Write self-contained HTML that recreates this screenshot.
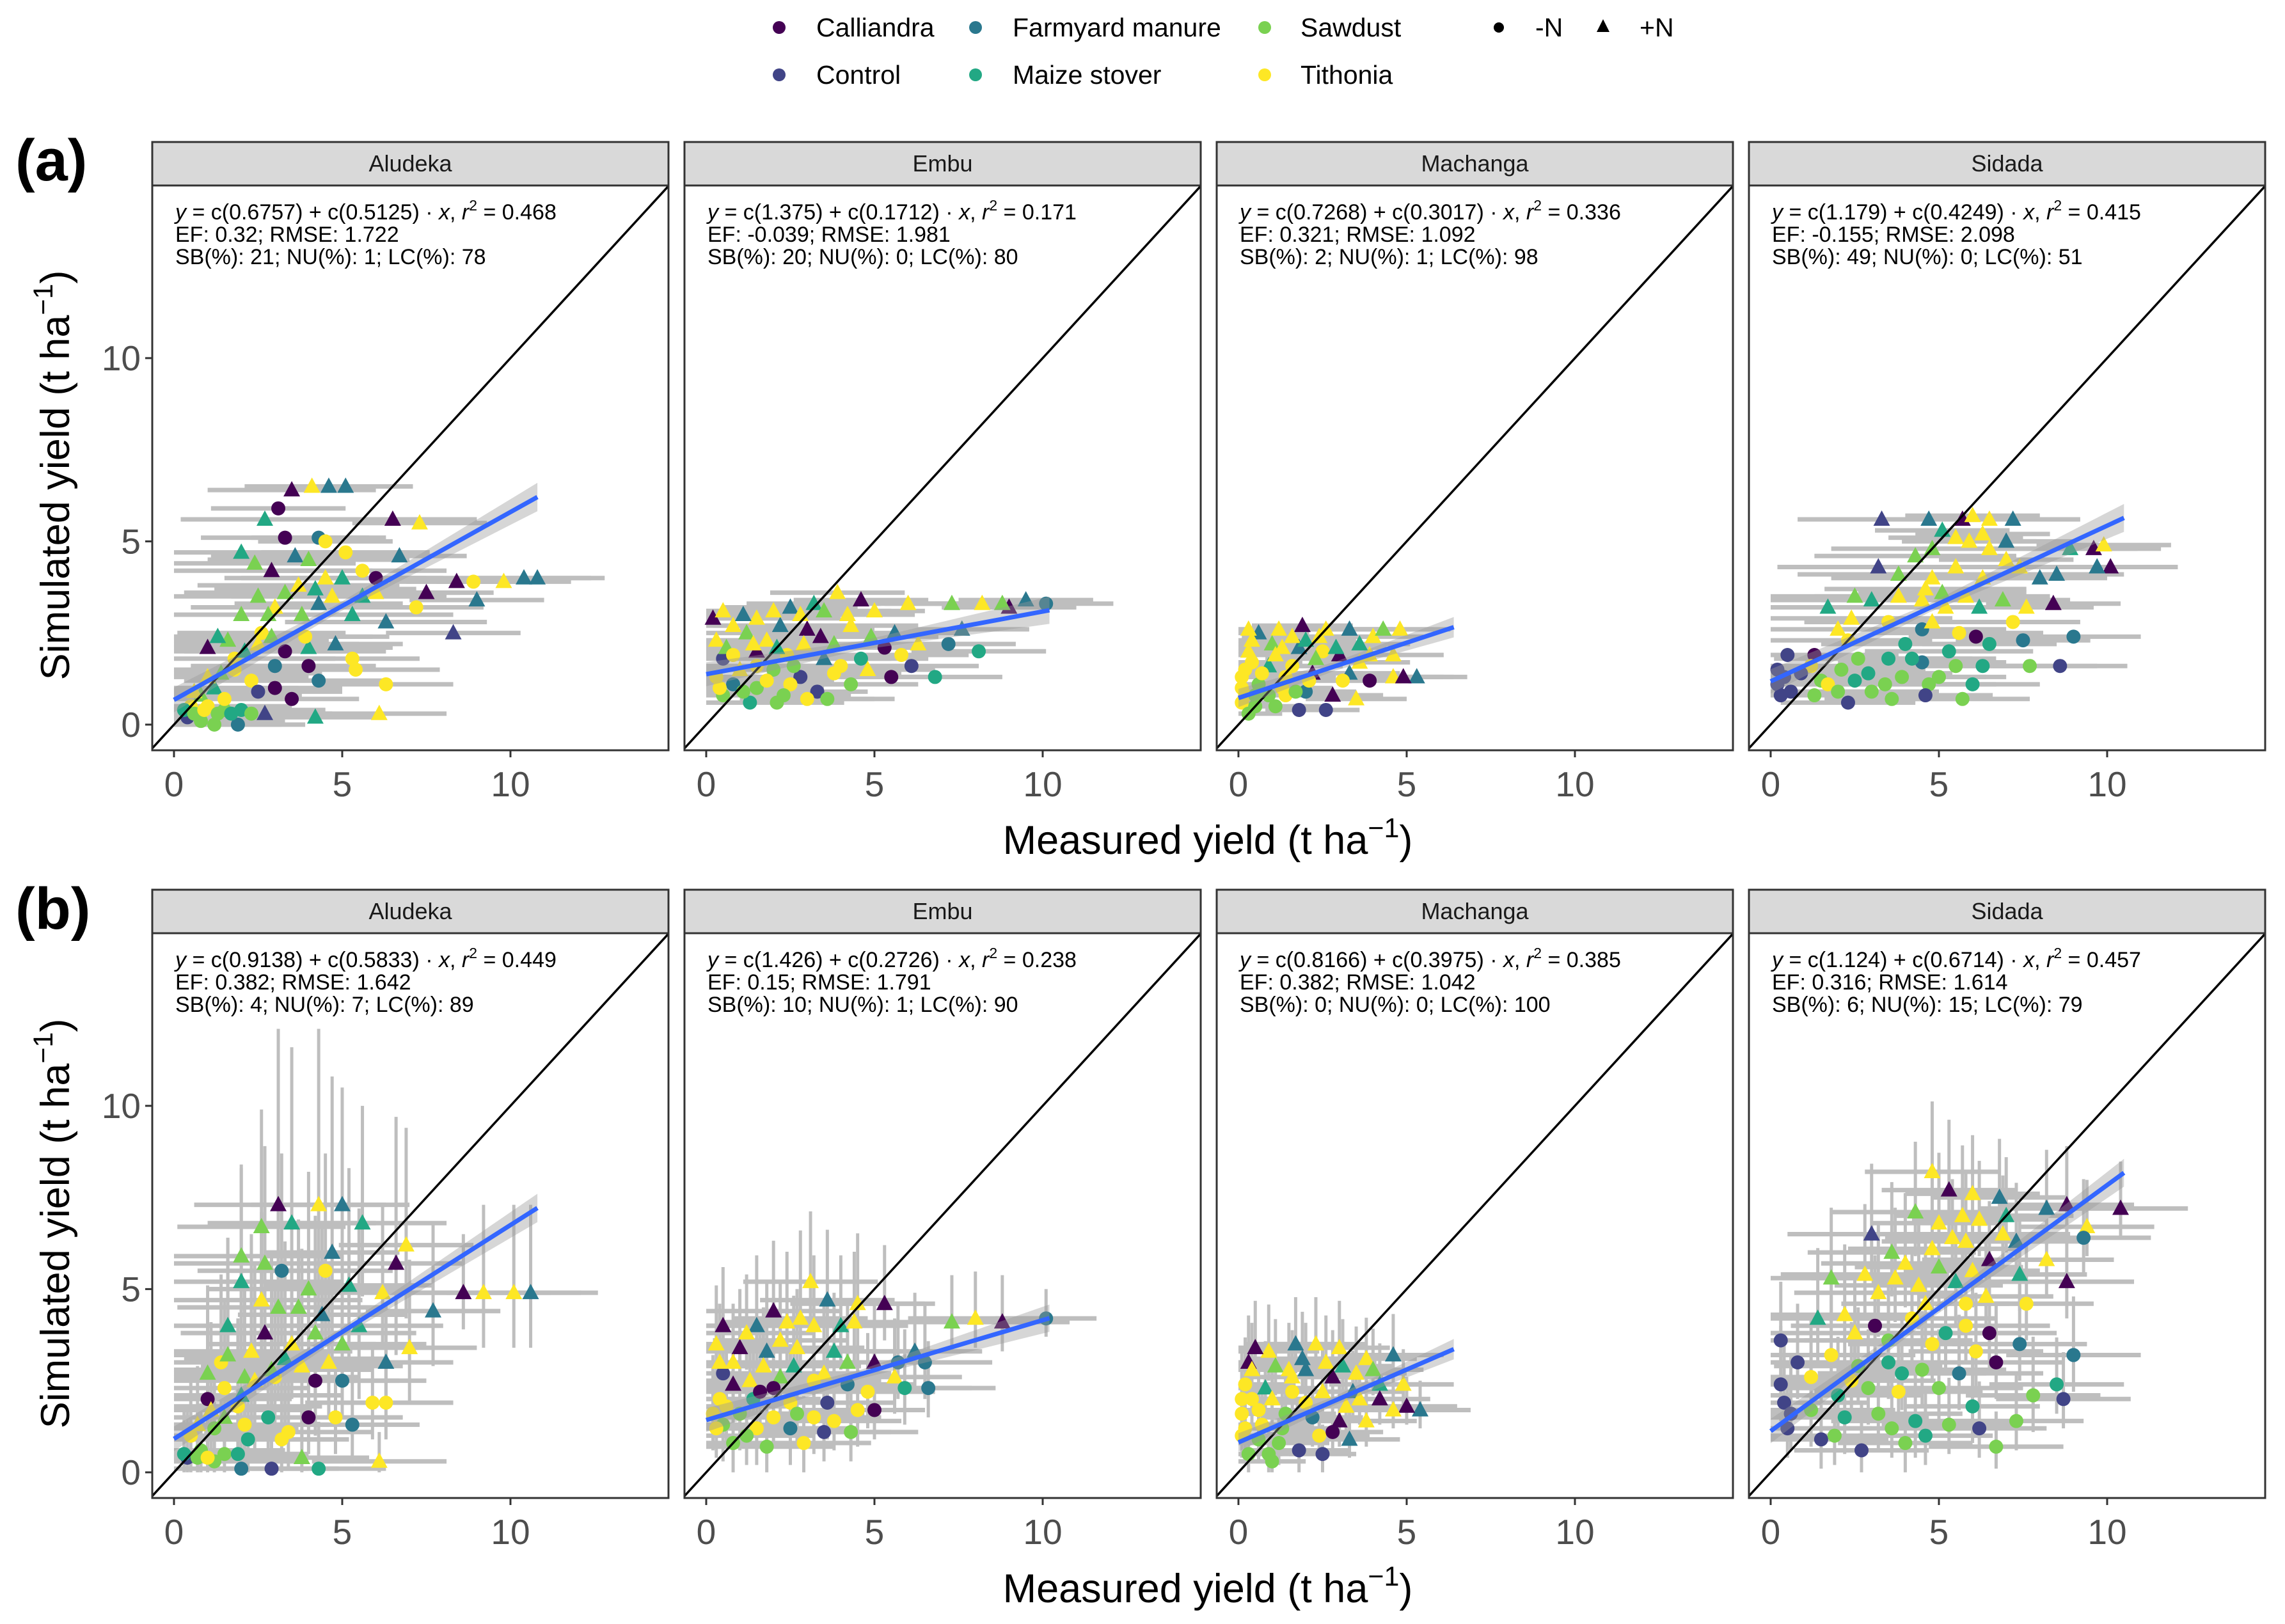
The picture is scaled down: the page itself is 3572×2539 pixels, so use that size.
<!DOCTYPE html>
<html><head><meta charset="utf-8">
<style>
html,body{margin:0;padding:0;background:#fff;}
svg{display:block;font-family:"Liberation Sans",Arial,sans-serif;}
</style></head>
<body>
<svg id="fig" width="3572" height="2539" viewBox="0 0 3572 2539" xmlns="http://www.w3.org/2000/svg">
<defs id="defs"></defs>
<g id="legend"></g>
<text x="24" y="282" font-size="92" font-weight="bold" fill="#000">(a)</text>
<text x="24" y="1452" font-size="92" font-weight="bold" fill="#000">(b)</text>
<text transform="translate(108,743) rotate(-90)" text-anchor="middle" font-size="63" fill="#000">Simulated yield (t ha<tspan dy="-26" font-size="43">−1</tspan><tspan dy="26">)</tspan></text>
<text transform="translate(108,1913) rotate(-90)" text-anchor="middle" font-size="63" fill="#000">Simulated yield (t ha<tspan dy="-26" font-size="43">−1</tspan><tspan dy="26">)</tspan></text>
<text x="1888" y="1335" text-anchor="middle" font-size="63" fill="#000">Measured yield (t ha<tspan dy="-26" font-size="43">−1</tspan><tspan dy="26">)</tspan></text>
<text x="1888" y="2505" text-anchor="middle" font-size="63" fill="#000">Measured yield (t ha<tspan dy="-26" font-size="43">−1</tspan><tspan dy="26">)</tspan></text>
<g id="panels"></g>
</svg>
<script>
// ---- data ----
const sites = ["Aludeka","Embu","Machanga","Sidada"];
const treatments = ["Calliandra","Control","Farmyard manure","Maize stover","Sawdust","Tithonia"];
const treatColors = ["#440154","#414487","#2A788E","#22A884","#7AD151","#FDE725"];
const interceptsA = [0.6757,1.375,0.7268,1.179];
const slopesA = [0.5125,0.1712,0.3017,0.4249];
const r2A = ["0.468","0.171","0.336","0.415"];
const efA = ["EF: 0.32; RMSE: 1.722","EF: -0.039; RMSE: 1.981","EF: 0.321; RMSE: 1.092","EF: -0.155; RMSE: 2.098"];
const sbA = ["SB(%): 21; NU(%): 1; LC(%): 78","SB(%): 20; NU(%): 0; LC(%): 80","SB(%): 2; NU(%): 1; LC(%): 98","SB(%): 49; NU(%): 0; LC(%): 51"];
const interceptsB = [0.9138,1.426,0.8166,1.124];
const slopesB = [0.5833,0.2726,0.3975,0.6714];
const r2B = ["0.449","0.238","0.385","0.457"];
const efB = ["EF: 0.382; RMSE: 1.642","EF: 0.15; RMSE: 1.791","EF: 0.382; RMSE: 1.042","EF: 0.316; RMSE: 1.614"];
const sbB = ["SB(%): 4; NU(%): 7; LC(%): 89","SB(%): 10; NU(%): 1; LC(%): 90","SB(%): 0; NU(%): 0; LC(%): 100","SB(%): 6; NU(%): 15; LC(%): 79"];
const fitXMax = [10.8,10.2,6.4,10.5];
// points: "measured simulated treatment N(0=-N,1=+N) xErr [yErr]"
const ptsA_Aludeka = ["3.5 6.4 0 1 2.5","4.1 6.5 5 1 2","4.6 6.5 2 1 2.5","5.1 6.5 2 1 2","3.1 5.9 0 0 2","2.7 5.6 3 1 2.5","6.5 5.6 0 1 2.5","7.3 5.5 5 1 2","3.3 5.1 0 0 2.5","4.3 5.1 2 0 2","4.5 5.0 5 0 2","5.1 4.7 5 0 2.5","2.0 4.7 3 1 3","2.4 4.4 4 1 3","3.6 4.6 2 1 2.5","5.6 4.2 5 0 2.5","6.7 4.6 2 1 2","4.5 4.0 5 1 3","5.0 4.0 3 1 3","6.0 4.0 0 0 2.5","8.4 3.9 0 1 2","8.9 3.9 5 0 2","9.8 3.9 5 1 2","10.4 4.0 2 1 2","10.8 4.0 2 1 2","7.5 3.6 0 1 2","9.0 3.4 2 1 2","7.2 3.2 5 0 2","2.5 3.5 4 1 3","3.0 3.2 5 1 2.5","3.8 3.0 4 1 3","4.3 3.3 2 1 2.5","5.3 3.0 3 1 3","6.3 2.8 2 1 3","8.3 2.5 1 1 2","2.6 2.5 5 0 2.5","3.3 2.0 0 0 3","4.0 2.1 3 1 2.5","4.8 2.2 2 1 2","1.6 2.3 4 1 3","1.0 2.1 0 1 3","1.8 1.5 5 0 2.5","2.3 1.2 5 0 2","3.0 1.6 2 0 2.5","4.0 1.6 0 0 2","5.4 1.5 5 0 2.5","6.3 1.1 5 0 2","1.2 1.0 3 1 2.5","0.8 0.8 4 1 3","0.5 0.5 5 0 3","1.0 0.5 5 0 2.5","1.5 0.4 4 0 2","2.0 0.4 3 0 2.5","0.4 0.2 1 0 2","1.2 0.0 4 0 2","1.9 0.0 2 0 2","2.7 0.3 1 1 2","4.2 0.2 3 1 2","6.1 0.3 5 1 2","0.8 0.1 4 0 2.5","1.5 0.7 5 0 2","3.5 0.7 0 0 2","0.3 0.4 3 0 2.5","0.6 0.3 4 0 2.5","0.9 0.4 5 0 2.5","1.3 0.3 4 0 2.5","1.7 0.3 3 0 2.5","2.3 0.3 4 0 2","0.6 0.9 5 1 3","1.0 1.3 5 1 3","1.4 1.4 4 1 3","1.8 1.8 5 0 3","2.1 2.0 3 1 3","2.5 2.2 5 1 3","2.9 2.4 4 1 3","1.3 2.4 3 1 3","2.0 3.0 4 1 3","2.8 3.0 4 1 3","3.3 3.6 4 1 3","3.7 3.8 5 1 3","4.2 3.7 3 1 3","4.7 3.5 5 1 3","5.6 3.5 3 1 2.5","6.0 3.6 5 1 2.5","2.9 4.2 0 1 3","4.0 4.5 4 1 3","3.9 2.4 5 0 2.5","4.3 1.2 2 0 2","5.3 1.8 5 0 2","2.5 0.9 1 0 2.5","3.0 1.0 0 0 2"];
const ptsA_Embu = ["0.2 2.9 0 1 2","0.8 2.7 5 1 2","1.5 2.9 5 1 2.5","2.5 3.2 2 1 2","3.2 3.3 3 1 2","3.9 3.6 5 1 2","4.6 3.4 0 1 2","5.0 3.1 5 1 1.5","6.0 3.3 5 1 2","7.3 3.3 4 1 2","8.2 3.3 5 1 2","9.0 3.2 0 1 2","9.5 3.4 2 1 2","10.1 3.3 2 0 2","0.3 2.3 5 1 2","1.2 2.5 4 1 2.5","2.2 2.7 2 1 2","3.0 2.6 0 1 2","4.3 2.7 5 1 2","5.6 2.5 2 1 2","6.3 2.2 5 1 2","7.2 2.2 2 0 2","8.1 2.0 3 0 2","0.5 1.8 1 0 2","1.5 2.0 0 1 2","2.4 1.9 5 0 2","3.5 1.8 2 1 2","4.6 1.8 3 0 2","5.3 2.1 0 0 2","6.1 1.6 1 0 2","0.3 1.3 5 0 2","1.0 1.5 5 1 2","2.0 1.5 4 0 2","2.8 1.3 1 0 2","3.8 1.4 5 0 2","4.8 1.5 5 1 2","1.5 1.0 4 0 2","2.5 1.1 5 0 2","3.3 0.9 1 0 1.5","4.3 1.1 4 0 2","0.5 0.8 4 0 2","1.3 0.6 3 0 2","2.1 0.6 4 0 2","3.0 0.7 5 0 2","0.8 1.1 2 0 2","5.5 1.3 0 0 1.5","6.8 1.3 3 0 2","1.8 2.3 5 1 2","3.8 2.2 4 1 2","2.8 3.0 5 1 2","0.5 3.1 5 1 2","1.1 3.0 2 1 2","2.0 3.1 5 1 2","3.5 3.1 4 1 2","4.2 3.0 5 1 2","0.6 2.1 4 1 2","1.4 2.2 5 1 2","2.1 2.1 3 1 2","2.9 2.2 5 1 2","3.4 2.4 0 1 2","4.9 2.4 4 1 2","0.4 1.0 5 0 2","1.1 0.9 4 0 2","1.8 1.2 5 0 2","2.3 0.8 4 0 2","3.6 0.7 4 0 2","4.0 1.6 5 0 2","2.6 1.6 4 0 2","1.5 1.6 5 0 2","0.8 1.9 5 0 2","5.8 1.9 5 0 2","7.6 2.6 2 1 2","8.8 3.3 4 1 2"];
const ptsA_Machanga = ["0.6 2.5 2 1 1.5","1.2 2.6 5 1 1.5","1.9 2.7 0 1 1.5","2.6 2.6 5 1 2","3.3 2.6 2 1 1.5","4.0 2.4 5 1 1.5","0.3 2.0 5 1 1.5","1.0 2.2 4 1 1.5","1.8 2.1 2 1 1.5","2.5 2.0 5 0 1.5","3.0 1.9 0 1 1.5","3.9 1.9 5 1 1.5","4.6 1.9 5 1 1.5","0.2 1.5 5 0 1.5","0.9 1.6 3 1 1.5","1.6 1.6 5 0 1.5","2.2 1.4 0 1 1.5","3.3 1.4 2 1 1.5","4.6 1.3 5 1 1.5","5.3 1.3 2 1 1.5","4.9 1.3 0 1 1.5","0.1 1.0 5 0 1.5","0.6 1.1 4 0 1.5","1.3 1.0 5 0 1.5","2.0 0.9 2 0 1.5","2.8 0.8 0 1 1.5","3.5 0.7 5 1 1.5","0.1 0.6 5 0 1","0.5 0.5 4 0 1.5","1.1 0.5 4 0 1.5","1.8 0.4 1 0 1","2.6 0.4 1 0 1","0.3 0.3 4 0 1","1.4 0.8 5 0 1.5","2.3 1.8 4 1 1.5","0.4 2.3 5 1 1.5","3.6 2.2 3 1 1.5","1.6 2.4 5 1 1.5","0.1 1.3 5 0 1.5","0.2 0.8 5 0 1","0.4 1.7 5 0 1.5","0.7 1.4 5 0 1.5","0.9 0.8 4 0 1.5","1.1 1.9 5 1 1.5","1.4 1.3 5 0 1.5","1.7 0.9 4 0 1.5","2.1 1.2 5 0 1.5","2.4 2.4 5 1 1.5","2.9 2.1 3 1 1.5","3.1 1.2 5 0 1.5","3.6 1.7 5 1 1.5","4.3 2.6 4 1 1.5","4.8 2.6 5 1 1.5","1.3 2.1 5 1 1.5","0.5 0.8 4 0 1","2.0 2.3 3 1 1.5","3.9 1.2 0 0 1.5","0.3 2.6 5 1 1.5"];
const ptsA_Sidada = ["3.3 5.6 1 1 2.5","4.7 5.6 2 1 2.5","5.7 5.6 0 1 2","6.0 5.7 5 1 2","6.5 5.6 5 1 2","7.2 5.6 2 1 2","5.1 5.3 3 1 2","4.8 4.8 4 1 3","6.5 4.8 5 1 2","7.0 5.0 2 1 2","8.9 4.8 3 1 2","9.6 4.8 0 1 2","9.9 4.9 5 1 2","10.1 4.3 0 1 2","9.7 4.3 2 1 2","3.2 4.3 1 1 3","3.8 4.1 4 1 3","4.8 4.0 5 1 3","5.5 4.3 5 1 2.5","6.3 4.0 5 1 2.5","7.4 4.3 5 1 2.5","8.0 4.0 2 1 2","8.5 4.1 2 1 2","2.5 3.5 4 1 3","3.8 3.5 5 1 2.5","4.6 3.7 5 1 3","5.2 3.2 5 1 2.5","6.2 3.2 3 1 2","7.6 3.2 5 1 2","8.4 3.3 0 1 2","2.0 2.6 5 1 3","3.5 2.8 5 0 2.5","4.5 2.6 2 0 2.5","6.1 2.4 0 0 2","7.5 2.3 2 0 2","9.0 2.4 2 0 2","0.5 1.9 1 0 2.5","1.3 1.9 0 0 2.5","2.6 1.8 4 0 2.5","3.5 1.8 3 0 2.5","4.5 1.7 2 0 2.5","5.5 1.6 4 0 2","6.3 1.6 3 0 2","7.7 1.6 4 0 2","8.6 1.6 1 0 2","0.4 1.3 1 0 2.5","1.5 1.2 4 0 2.5","2.5 1.2 3 0 2.5","3.4 1.1 4 0 2.5","4.7 1.1 4 0 2","0.6 0.9 1 0 2.5","1.3 0.8 4 0 2.5","2.3 0.6 1 0 2","3.6 0.7 4 0 2","4.6 0.8 1 0 2","5.7 0.7 4 0 2","0.2 1.5 1 0 2.5","4.0 2.2 3 0 2.5","5.6 2.5 5 0 2.5","2.3 2.3 5 0 2.5","1.2 1.6 5 0 2.5","5.5 5.1 5 1 2","5.9 5.0 5 1 2","6.3 5.2 5 1 2","7.0 4.5 5 1 2","4.3 4.6 4 1 3","4.5 3.4 5 1 3","5.1 3.6 4 1 2.5","5.8 3.5 5 1 2.5","3.0 3.4 3 1 3","6.9 3.4 4 1 2","1.7 3.2 3 1 3","2.4 2.9 5 1 3","0.2 1.1 1 0 2.5","0.3 0.8 1 0 2.5","1.7 1.1 5 0 2.5","2.1 1.5 4 0 2.5","2.9 1.4 3 0 2.5","3.9 1.3 4 0 2.5","4.2 1.8 3 0 2.5","5.0 1.3 4 0 2","6.0 1.1 3 0 2","3.0 0.9 4 0 2","2.0 0.9 4 0 2.5","6.5 2.2 3 0 2","7.2 2.8 5 0 2","5.3 2.0 3 0 2.5","4.8 2.8 5 1 2.5","0.9 1.4 1 0 2.5"];
const ptsB_Aludeka = ["3.1 7.3 0 1 2.5 3","4.3 7.3 5 1 2 3","5.0 7.3 2 1 2 2","2.6 6.7 4 1 2.5 2","3.5 6.8 3 1 2.5 3","5.6 6.8 3 1 2.5 2","6.6 5.7 0 1 2 2.5","6.9 6.2 5 1 2 2","2.0 5.9 4 1 3 1.5","3.2 5.5 2 0 2.5 2","4.5 5.5 5 0 2 2","5.2 5.1 3 1 2.5 2","6.2 4.9 5 1 2 1.5","8.6 4.9 0 1 2 1","9.2 4.9 5 1 2 1.5","10.6 4.9 2 1 2 1.5","10.1 4.9 5 1 2 1.5","7.7 4.4 2 1 2 1.5","2.6 4.7 5 1 3 1.5","3.7 4.5 4 1 2.5 1.5","4.4 4.3 2 1 2.5 1.5","1.6 4.0 3 1 3 1.5","2.7 3.8 0 1 2.5 1.5","3.5 3.5 5 1 2.5 1.5","5.0 3.5 4 1 2.5 1.5","6.3 3.0 2 1 2 1","1.4 3.0 5 0 3 1.5","2.1 2.6 4 1 3 1.5","3.0 2.6 5 0 2.5 1.5","4.2 2.5 0 0 2.5 1.5","5.0 2.5 2 0 2.5 1","1.0 2.0 0 0 2.5 1.5","1.9 1.8 5 0 2.5 1.5","2.8 1.5 3 0 2.5 1","4.0 1.5 0 0 2 1","6.3 1.9 5 0 2 1","0.5 1.0 5 0 3 1","1.2 1.2 4 0 2.5 1","2.2 0.9 3 0 2.5 1","3.2 0.9 5 0 2 1","0.4 0.4 1 0 2 0.8","1.2 0.3 4 0 2.5 0.8","2.0 0.1 2 0 2 0.8","2.9 0.1 1 0 2 0.8","4.3 0.1 3 0 2 0.8","6.1 0.3 5 1 2 0.5","0.8 0.6 4 0 2.5 0.8","3.8 0.4 4 1 2 0.5","1.5 2.3 5 0 2.5 1.5","4.6 3.0 5 1 2.5 1.5","0.3 0.5 3 0 2.5 0.8","0.7 0.4 4 0 2.5 0.8","1.0 0.4 5 0 2.5 0.8","1.5 0.5 4 0 2.5 0.8","1.9 0.5 3 0 2 0.8","0.7 1.3 5 1 3 1","1.1 1.7 5 1 3 1.5","1.5 1.5 4 1 3 1","2.0 2.1 3 1 3 1.5","2.4 2.5 5 1 3 2","2.9 2.8 4 1 3 2","1.0 2.7 4 1 3 1.5","1.6 3.2 4 1 3 2","2.3 3.3 5 1 3 2","3.3 3.1 3 1 3 2","3.8 2.9 5 1 3 2","4.2 3.8 4 1 3 2","5.5 4.0 3 1 2.5 2","3.1 4.5 4 1 3 2.5","2.0 5.2 3 1 3 2","2.7 5.7 4 1 3 2","4.0 5.0 4 1 3 2","3.4 1.1 5 0 2.5 1","2.1 1.3 5 0 2.5 1","4.8 1.5 5 0 2 1","5.3 1.3 2 0 2 1","5.9 1.9 5 0 2 1","7.0 3.4 5 1 2 1.5","4.7 6.0 2 1 2 3"];
const ptsB_Embu = ["3.1 5.2 5 1 2 1.2","3.6 4.7 2 1 2 1.2","4.5 4.6 5 1 2 1.2","5.3 4.6 0 1 1.5 1","0.5 4.0 0 1 2 1","1.5 4.0 2 1 2.5 1.2","2.4 4.1 5 1 2 1.2","3.2 4.0 5 1 2 1.2","4.0 4.0 3 1 2 1.2","7.3 4.1 4 1 1.5 0.8","8.0 4.2 5 1 2 0.8","8.8 4.1 0 1 2 0.8","10.1 4.2 2 0 1.5 0.5","0.3 3.5 5 1 2 1","1.0 3.4 0 1 2 1","1.8 3.3 2 1 2 1.2","2.7 3.4 5 1 2 1","3.8 3.3 3 1 2 1","5.0 3.0 0 1 2 1","5.7 3.0 2 0 2 1","0.5 2.7 1 0 2 1","1.3 2.5 5 1 2 1","2.2 2.6 4 1 2 1","3.2 2.5 5 0 2 1","4.2 2.4 2 0 2 1","5.6 2.6 5 1 2 1","6.6 2.3 2 0 2 0.8","0.4 2.0 5 0 2 1","1.4 2.0 3 0 2 1","2.5 1.9 5 0 2 1","3.6 1.9 1 0 2 1","4.5 1.7 5 0 2 1","5.0 1.7 0 0 1.5 0.8","0.5 1.3 4 0 2 1","1.5 1.2 5 0 2 1","2.5 1.2 2 0 2 1","3.5 1.1 1 0 2 0.8","4.3 1.1 4 0 2 0.8","0.8 0.8 4 0 2 0.8","1.8 0.7 4 0 2 0.8","2.9 0.8 5 0 2 0.8","0.2 1.6 5 0 2 1","1.0 1.6 4 0 2 1","2.0 2.3 0 0 2 1","3.2 1.5 5 0 2 1","6.2 3.3 2 1 2 1","0.8 3.0 5 1 2 1","2.2 3.6 5 1 2 1","0.4 3.0 5 1 2 1","1.2 3.8 5 1 2 1","2.0 4.4 0 1 2 1.2","2.8 4.2 5 1 2 1.5","4.4 4.1 5 1 2 1.2","0.8 2.4 0 1 2 1","1.7 2.9 5 1 2 1","2.6 2.9 3 1 2 1.2","3.5 2.7 5 1 2 1.2","4.2 3.0 4 1 2 1","0.3 1.2 5 0 2 0.8","1.2 1.0 4 0 2 0.8","2.0 1.5 5 0 2 0.8","2.7 1.6 4 0 2 0.8","3.8 1.4 5 0 2 0.8","4.8 2.2 5 0 2 1","5.9 2.3 3 0 2 1","6.5 3.0 2 0 2 1","1.6 2.2 0 0 2 1","0.6 1.8 5 0 2 1"];
const ptsB_Machanga = ["0.9 3.3 5 1 1.5 0.8","1.7 3.5 2 1 1.5 0.8","2.3 3.5 5 1 1.5 0.8","3.0 3.4 5 1 1.5 0.8","3.8 3.1 5 1 1.5 0.7","4.6 3.2 2 1 1.5 0.7","0.3 3.0 0 1 1.5 0.8","1.1 2.9 4 1 1.5 0.8","2.0 2.8 2 1 1.5 0.8","2.8 2.6 0 1 1.5 0.8","3.5 2.7 5 1 1.5 0.8","4.2 2.4 3 1 1.5 0.7","0.2 2.4 5 0 1.5 0.8","0.8 2.3 3 1 1.5 0.8","1.6 2.2 5 0 1.5 0.8","2.5 2.2 5 1 1.5 0.8","3.4 2.2 2 1 1.5 0.7","4.2 2.0 0 1 1.5 0.7","5.4 1.7 2 1 1.5 0.5","5.0 1.8 0 1 1.5 0.5","4.6 1.7 5 1 1.5 0.5","0.1 1.6 5 0 1.5 0.8","0.6 1.7 5 0 1.5 0.8","1.4 1.6 4 0 1.5 0.8","2.2 1.5 2 0 1.5 0.8","3.0 1.4 0 1 1.5 0.7","3.8 1.4 5 1 1.5 0.7","0.1 1.0 5 0 1 0.6","0.6 0.9 4 0 1.5 0.6","1.2 0.8 4 0 1.5 0.6","1.8 0.6 1 0 1.5 0.6","2.5 0.5 1 0 1 0.5","3.3 0.9 2 1 1.5 0.5","0.3 0.5 4 0 1 0.5","1.0 0.3 4 0 1 0.5","2.4 1.0 5 0 1.5 0.6","1.5 2.8 5 1 1.5 0.8","0.4 2.0 5 0 1.5 0.8","0.1 2.0 5 0 1.5 0.8","0.2 1.2 5 0 1 0.6","0.4 2.8 5 1 1.5 0.8","0.7 1.3 5 0 1.5 0.6","1.0 2.0 5 1 1.5 0.8","1.3 1.2 4 0 1.5 0.6","1.6 2.6 5 1 1.5 0.8","2.0 1.9 5 0 1.5 0.8","2.6 3.0 5 1 1.5 0.8","3.1 2.9 3 1 1.5 0.8","3.2 1.8 5 1 1.5 0.7","4.0 2.8 4 1 1.5 0.7","4.9 2.4 5 1 1.5 0.6","1.9 3.1 2 1 1.5 0.8","0.5 3.4 0 1 1.5 0.8","2.8 1.1 0 0 1.5 0.6","0.9 0.5 4 0 1 0.5","3.6 2.0 5 1 1.5 0.7"];
const ptsB_Sidada = ["4.8 8.2 5 1 2 1.2","5.3 7.7 0 1 2 1.2","6.0 7.6 5 1 2 1","6.8 7.5 2 1 2 1","4.3 7.1 4 1 2.5 1.2","5.7 7.0 5 1 2 1.2","7.0 7.0 3 1 2 1","8.2 7.2 2 1 2 1","8.8 7.3 0 1 2 1","9.4 6.7 5 1 2 0.8","10.4 7.2 0 1 2 0.8","9.3 6.4 2 0 2 1","3.0 6.5 1 1 2.5 1.2","3.6 6.0 4 1 2.5 1.2","4.8 6.1 5 1 2.5 1.2","5.8 6.3 5 1 2.5 1.2","6.5 5.8 0 1 2 1","7.3 6.3 2 1 2 1","8.2 5.8 5 1 2 1","8.8 5.2 0 1 2 1","1.8 5.3 4 1 3 1.2","2.8 5.4 5 1 2.5 1.2","3.7 5.3 5 1 2.5 1.2","4.4 5.1 5 1 2.5 1.2","5.5 5.2 3 1 2.5 1.2","6.4 4.8 5 1 2 1","7.6 4.6 5 0 2 1","1.4 4.2 3 1 3 1.2","2.2 4.3 5 1 2.5 1.2","3.1 4.0 0 0 2.5 1.2","4.2 4.2 5 0 2.5 1.2","5.2 3.8 3 0 2.5 1","6.5 3.8 0 0 2 1","7.4 3.5 2 0 2 1","9.0 3.2 2 0 2 1","0.3 3.6 1 0 2.5 1","0.8 3.0 1 0 2.5 1","1.8 3.2 5 0 2.5 1","2.6 2.9 4 0 2.5 1","3.5 3.0 3 0 2.5 1","4.5 2.8 4 0 2.5 1","5.6 2.7 2 0 2.5 1","6.7 3.0 0 0 2 1","7.8 2.1 4 0 2 1","8.7 2.0 1 0 2 0.8","0.4 1.9 1 0 2.5 1","1.2 1.7 4 0 2.5 1","2.2 1.5 3 0 2.5 1","3.2 1.6 4 0 2.5 1","4.3 1.4 3 0 2.5 1","5.3 1.3 4 0 2 0.8","6.2 1.2 1 0 2 0.8","0.5 1.2 1 0 2.5 0.8","1.5 0.9 1 0 2 0.8","2.7 0.6 1 0 2 0.8","4.0 0.8 4 0 2 0.8","6.7 0.7 4 0 2 0.6","3.8 2.2 5 0 2.5 1","5.8 4.0 5 0 2.5 1","2.4 2.5 5 0 2.5 1","5.0 6.8 5 1 2 1.2","6.2 6.9 5 1 2 1","5.4 6.4 5 1 2 1","6.9 6.5 5 1 2 1","4.0 5.7 5 1 2.5 1.2","5.0 5.6 4 1 2.5 1.2","6.0 5.5 5 1 2 1","7.4 5.4 3 1 2 1","3.2 4.9 5 1 2.5 1.2","4.6 4.6 5 1 2.5 1.2","5.8 4.6 5 0 2 1","2.5 3.8 5 1 2.5 1","3.5 3.6 4 0 2.5 1","4.8 3.5 5 0 2.5 1","6.1 3.3 5 0 2 1","1.2 2.6 5 0 2.5 1","2.0 2.1 3 0 2.5 1","2.9 2.3 4 0 2.5 1","3.9 2.7 3 0 2.5 1","5.0 2.3 4 0 2.5 1","6.0 1.8 3 0 2 1","3.6 1.2 4 0 2.5 0.8","4.6 1.0 3 0 2 0.8","1.9 1.0 4 0 2.5 0.8","0.3 2.4 1 0 2.5 1","0.6 1.6 1 0 2.5 1","7.3 1.4 4 0 2 0.8","8.5 2.4 3 0 2 0.8"];

// ---- layout ----
const NS = "http://www.w3.org/2000/svg";
const defs = document.getElementById('defs');
const panelsG = document.getElementById('panels');
const PX = [238,1070,1902,2734], PW = 807, STRIP_H = 68, PH = 883;
const ROW_TOP = [222,1391];
const XMIN = -0.646, YMIN = -0.7, XS = 52.6, YS = 57.3;
function mk(tag, attrs, parent){ const e=document.createElementNS(NS,tag); for(const k in attrs) e.setAttribute(k,attrs[k]); if(parent) parent.appendChild(e); return e; }

// legend
const legend = document.getElementById('legend');
const legX = [1218,1525,1977], legTX = [1276,1583,2033], legY = [43,117];
const legOrder = [[0,1],[2,3],[4,5]];
legOrder.forEach((col,ci)=>col.forEach((ti,ri)=>{
  const g = mk('g',{},legend);
  
  
  mk('circle',{cx:legX[ci],cy:legY[ri],r:10,fill:treatColors[ti]},g);
  const t = mk('text',{x:legTX[ci],y:legY[ri]+14,'font-size':41,fill:'#000'},g);
  t.textContent = treatments[ti];
}));
{
  const g = mk('g',{},legend);
  
  
  mk('circle',{cx:2343,cy:43,r:8,fill:'#000'},g);
  const t=mk('text',{x:2400,y:57,'font-size':41,fill:'#000'},g); t.textContent='-N';
  const g2 = mk('g',{},legend);
  
  
  mk('polygon',{points:'2506,30 2496,50 2516,50',fill:'#000'},g2);
  const t2=mk('text',{x:2563,y:57,'font-size':41,fill:'#000'},g2); t2.textContent='+N';
}

const allPts = [[ptsA_Aludeka,ptsA_Embu,ptsA_Machanga,ptsA_Sidada],[ptsB_Aludeka,ptsB_Embu,ptsB_Machanga,ptsB_Sidada]];
const ints = [interceptsA,interceptsB], slps=[slopesA,slopesB], r2s=[r2A,r2B], efs=[efA,efB], sbs=[sbA,sbB];

for(let row=0;row<2;row++){
  for(let p=0;p<4;p++){
    const L = PX[p], T = ROW_TOP[row]+STRIP_H, B = T+PH;
    const xs = v => L + (v-XMIN)*XS;
    const ys = v => B - (v-YMIN)*YS;
    const rowTag = row===0?'a':'b';
    const pg = mk('g',{},panelsG);
    
    
    const strip = mk('rect',{x:L,y:ROW_TOP[row],width:PW,height:STRIP_H,fill:'#d9d9d9',stroke:'#333','stroke-width':3},pg);
    
    
    const st = mk('text',{x:L+PW/2,y:ROW_TOP[row]+46,'text-anchor':'middle','font-size':36,fill:'#1a1a1a'},pg);
    st.textContent = sites[p];
    
    
    mk('rect',{x:L,y:T,width:PW,height:PH,fill:'#fff'},pg);
    const cid = 'clip'+row+p;
    const cp = mk('clipPath',{id:cid},defs);
    mk('rect',{x:L,y:T,width:PW,height:PH},cp);
    const plotG = mk('g',{'clip-path':'url(#'+cid+')'},pg);
    const pts = allPts[row][p].map(s=>s.split(' ').map(Number));
    const eg = mk('g',{stroke:'#bebebe','stroke-width':7},plotG);
    
    
    pts.forEach(d=>{
      const h = mk('line',{x1:xs(Math.max(0,d[0]-d[4])),x2:xs(d[0]+d[4]),y1:ys(d[1]),y2:ys(d[1])},eg);
      
      
      if(d.length>5){
        const v = mk('line',{x1:xs(d[0]),x2:xs(d[0]),y1:ys(Math.max(0,d[1]-d[5])),y2:ys(d[1]+d[5]*1.6),'stroke-width':5},eg);
        
        
      }
    });
    const ptG = mk('g',{},plotG);
    
    
    pts.forEach(d=>{
      const cx = xs(d[0]), cy = ys(d[1]), col = treatColors[d[2]];
      let m;
      if(d[3]===0){ m = mk('circle',{cx:cx,cy:cy,r:11,fill:col},ptG); }
      else { m = mk('polygon',{points:(cx)+','+(cy-14)+' '+(cx-13)+','+(cy+10)+' '+(cx+13)+','+(cy+10),fill:col},ptG); }
      
      
    });
    const diag = mk('line',{x1:xs(-1),y1:ys(-1),x2:xs(16),y2:ys(16),stroke:'#000','stroke-width':3.5},plotG);
    
    
    const a = ints[row][p], b = slps[row][p], x0 = 0, x1 = fitXMax[p], xm = (x0+x1)*0.45;
    const band = x => 0.12 + 0.045*Math.abs(x-xm);
    let up=[], lo=[];
    for(let i=0;i<=20;i++){ const x = x0+(x1-x0)*i/20; up.push(xs(x)+','+ys(a+b*x+band(x))); lo.unshift(xs(x)+','+ys(a+b*x-band(x))); }
    const rib = mk('polygon',{points:up.concat(lo).join(' '),fill:'#999','fill-opacity':0.4},plotG);
    
    
    const fit = mk('line',{x1:xs(x0),y1:ys(a+b*x0),x2:xs(x1),y2:ys(a+b*x1),stroke:'#3366ff','stroke-width':7},plotG);
    
    
    const ag = mk('g',{'font-size':34,fill:'#000'},pg);
    
    
    const ax = L+36, ay = ROW_TOP[row]+121;
    const t1 = mk('text',{x:ax,y:ay},ag);
    t1.innerHTML = '<tspan font-style="italic">y</tspan> = c(' + a + ') + c(' + b + ') · <tspan font-style="italic">x</tspan>,  <tspan font-style="italic">r</tspan><tspan dy="-14" font-size="23">2</tspan><tspan dy="14"> = ' + r2s[row][p] + '</tspan>';
    const t2 = mk('text',{x:ax,y:ay+35},ag); t2.textContent = efs[row][p];
    const t3 = mk('text',{x:ax,y:ay+70},ag); t3.textContent = sbs[row][p];
    mk('rect',{x:L,y:T,width:PW,height:PH,fill:'none',stroke:'#333','stroke-width':3},pg);
    const xt = mk('g',{},pg);
    
    
    [0,5,10].forEach(v=>{
      mk('line',{x1:xs(v),x2:xs(v),y1:B,y2:B+11,stroke:'#333','stroke-width':3},xt);
      const tl = mk('text',{x:xs(v),y:B+72,'text-anchor':'middle','font-size':55,fill:'#4d4d4d'},xt);
      tl.textContent = v;
    });
    if(p===0){
      const yt = mk('g',{},pg);
      
      
      [0,5,10].forEach(v=>{
        mk('line',{x1:L-11,x2:L,y1:ys(v),y2:ys(v),stroke:'#333','stroke-width':3},yt);
        const tl = mk('text',{x:L-18,y:ys(v)+19,'text-anchor':'end','font-size':55,fill:'#4d4d4d'},yt);
        tl.textContent = v;
      });
    }
  }
}
</script>
</body></html>
